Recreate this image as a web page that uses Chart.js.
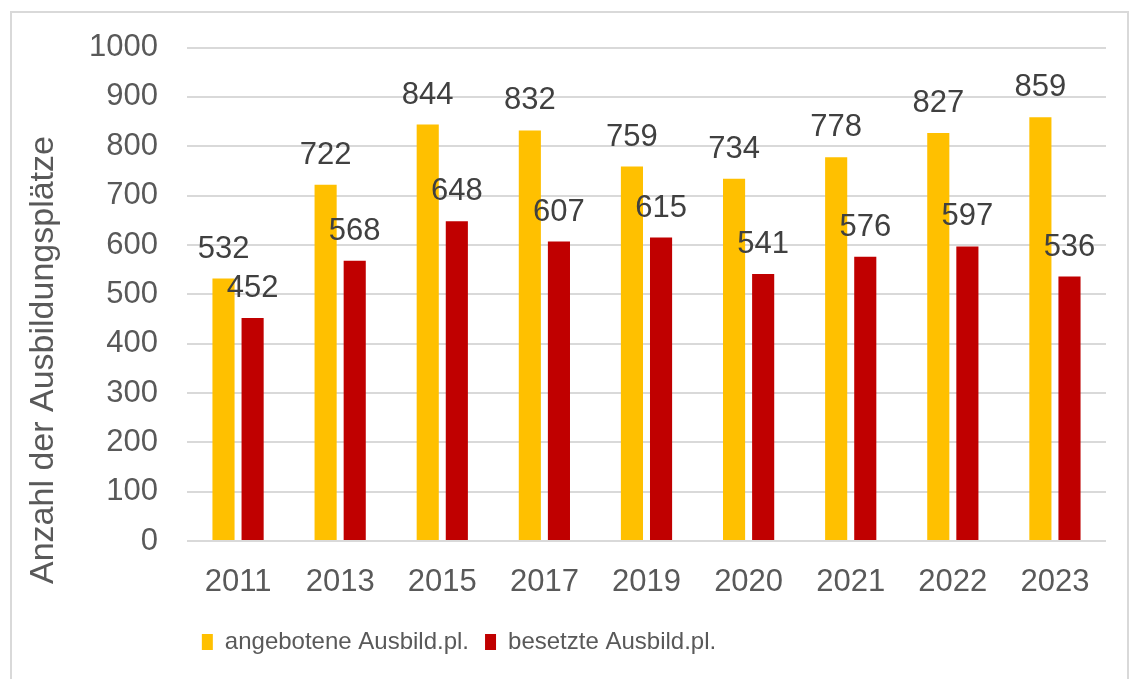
<!DOCTYPE html>
<html>
<head>
<meta charset="utf-8">
<script src="https://cdn.jsdelivr.net/npm/chart.js@4/dist/chart.umd.min.js"></script>
<style>
  html, body { margin: 0; padding: 0; background: #fff; }
  #frame { position: absolute; left: 10px; top: 11px; width: 1115px; height: 700px; border: 2px solid #d9d9d9; }
  #wrap { position: absolute; left: 0; top: 0; width: 1136px; height: 679px; }
</style>
</head>
<body>
<div id="frame"></div>
<div id="wrap"><canvas id="chart"></canvas></div>
<script>
const years = ['2011', '2013', '2015', '2017', '2019', '2020', '2021', '2022', '2023'];
const angeboten = [532, 722, 844, 832, 759, 734, 778, 827, 859];
const besetzt = [452, 568, 648, 607, 615, 541, 576, 597, 536];
const yTicks = [0, 100, 200, 300, 400, 500, 600, 700, 800, 900, 1000];
const yTitle = 'Anzahl der Ausbildungsplätze';

Chart.defaults.font.family = "'Liberation Sans', Arial, sans-serif";
Chart.defaults.color = '#595959';

// values above the bars
const barLabels = {
  id: 'barLabels',
  afterDatasetsDraw(chart) {
    const ctx = chart.ctx;
    ctx.save();
    ctx.font = "31px 'Liberation Sans', Arial, sans-serif";
    ctx.fillStyle = '#404040';
    ctx.textAlign = 'center';
    ctx.textBaseline = 'alphabetic';
    chart.data.datasets.forEach((ds, i) => {
      chart.getDatasetMeta(i).data.forEach((bar, j) => {
        ctx.fillText(ds.data[j], bar.x, bar.y - 21);
      });
    });
    ctx.restore();
  }
};

// y title sits lower than the plot centre in the original
const sideTitle = {
  id: 'sideTitle',
  afterDraw(chart) {
    const ctx = chart.ctx;
    ctx.save();
    ctx.translate(44, 360);
    ctx.rotate(-Math.PI / 2);
    ctx.font = "34px 'Liberation Sans', Arial, sans-serif";
    ctx.fillStyle = '#595959';
    ctx.textAlign = 'center';
    ctx.textBaseline = 'middle';
    ctx.fillText(yTitle, 0, 0);
    ctx.restore();
  }
};

// legend sits left of centre in the original
const legendShift = {
  id: 'legendShift',
  afterLayout(chart) {
    const lg = chart.legend;
    const w = lg.right - lg.left;
    lg.left = 459 - w / 2;
    lg.right = 459 + w / 2;
  }
};

new Chart(document.getElementById('chart'), {
  type: 'bar',
  data: {
    labels: years,
    datasets: [
      { label: 'angebotene Ausbild.pl.', data: angeboten, backgroundColor: '#FFC000' },
      { label: 'besetzte Ausbild.pl.', data: besetzt, backgroundColor: '#C00000' }
    ]
  },
  options: {
    responsive: true,
    maintainAspectRatio: false,
    animation: false,
    categoryPercentage: 0.57,
    barPercentage: 0.76,
    layout: { padding: { left: 0, right: 30, top: 45, bottom: 15 } },
    plugins: {
      tooltip: { enabled: false },
      legend: {
        position: 'bottom',
        labels: {
          boxWidth: 11,
          boxHeight: 16,
          padding: 16,
          color: '#595959',
          font: { size: 24 }
        }
      }
    },
    scales: {
      x: {
        grid: { display: false },
        border: { display: false },
        ticks: { padding: 15, font: { size: 31 }, color: '#595959', maxRotation: 0 },
        afterFit(scale) { scale.height = 73; }
      },
      y: {
        min: 0,
        max: 1000,
        afterBuildTicks(scale) { scale.ticks = yTicks.map(v => ({ value: v })); },
        grid: { color: '#d9d9d9', lineWidth: 2, drawTicks: false },
        border: { display: false },
        ticks: { padding: 29, font: { size: 31 }, color: '#595959', callback: v => String(v) },
        afterFit(scale) { scale.width = 187; }
      }
    }
  },
  plugins: [barLabels, sideTitle, legendShift]
});
</script>
</body>
</html>
